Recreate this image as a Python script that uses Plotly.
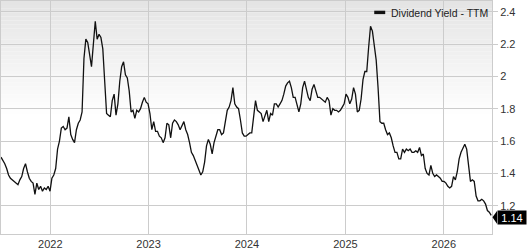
import pandas as pd
import plotly.graph_objects as go

series_name = "Dividend Yield - TTM"
start_date = "2021-07-02"
yield_values = [
    1.50, 1.48, 1.46, 1.43, 1.39, 1.37, 1.36, 1.35, 1.34, 1.33,
    1.36, 1.38, 1.43, 1.46, 1.41, 1.37, 1.35, 1.34, 1.27, 1.34,
    1.30, 1.32, 1.29, 1.31, 1.30, 1.32, 1.29, 1.37, 1.39, 1.43,
    1.55, 1.60, 1.68, 1.69, 1.67, 1.68, 1.75, 1.64, 1.61, 1.59,
    1.67, 1.71, 1.73, 1.78, 2.11, 2.23, 2.21, 2.13, 2.06, 2.20,
    2.34, 2.23, 2.26, 2.24, 2.17, 1.97, 1.77, 1.76, 1.75, 1.85,
    1.89, 1.76, 1.83, 1.97, 2.06, 2.09, 2.01, 1.99, 1.91, 1.78,
    1.79, 1.74, 1.79, 1.78, 1.80, 1.84, 1.87, 1.84, 1.83, 1.77,
    1.67, 1.72, 1.66, 1.66, 1.63, 1.62, 1.59, 1.62, 1.71, 1.70,
    1.62, 1.71, 1.73, 1.72, 1.70, 1.67, 1.70, 1.72, 1.67, 1.64,
    1.59, 1.53, 1.51, 1.48, 1.45, 1.43, 1.39, 1.41, 1.47, 1.57,
    1.61, 1.58, 1.52, 1.59, 1.64, 1.67, 1.67, 1.64, 1.65, 1.71,
    1.79, 1.81, 1.85, 1.93, 1.83, 1.81, 1.80, 1.73, 1.65, 1.63,
    1.63, 1.64, 1.65, 1.65, 1.74, 1.85, 1.79, 1.78, 1.77, 1.72,
    1.75, 1.79, 1.72, 1.77, 1.76, 1.83, 1.83, 1.81, 1.83, 1.85,
    1.89, 1.94, 1.96, 1.97, 1.93, 1.87, 1.87, 1.83, 1.78, 1.83,
    1.93, 1.97, 1.92, 1.87, 1.85, 1.92, 1.95, 1.91, 1.87, 1.87,
    1.86, 1.85, 1.84, 1.87, 1.85, 1.76, 1.80, 1.79, 1.79, 1.78,
    1.79, 1.81, 1.83, 1.89, 1.87, 1.83, 1.86, 1.93, 1.89, 1.78,
    1.79, 1.86, 1.98, 2.03, 2.03, 2.18, 2.31, 2.28, 2.20, 2.10,
    1.93, 1.72, 1.71, 1.71, 1.67, 1.64, 1.65, 1.62, 1.57, 1.53,
    1.53, 1.49, 1.49, 1.55, 1.53, 1.55, 1.54, 1.55, 1.53, 1.53,
    1.54, 1.53, 1.56, 1.51, 1.52, 1.43, 1.40, 1.39, 1.45, 1.40,
    1.38, 1.39, 1.38, 1.37, 1.35, 1.35, 1.34, 1.32, 1.31, 1.32,
    1.38, 1.36, 1.41, 1.49, 1.53, 1.56, 1.58, 1.55, 1.45, 1.35,
    1.36, 1.35, 1.26, 1.23, 1.23, 1.24, 1.23, 1.21, 1.17, 1.16,
    1.14,
]
dates = pd.date_range(start_date, periods=len(yield_values), freq="7D")
x_range = ["2021-07-02", "2026-06-29"]
y_range = [1.025, 2.466]
y_ticks = [1.2, 1.4, 1.6, 1.8, 2.0, 2.2, 2.4]

FONT = "Liberation Sans, Arial, sans-serif"
GRID = "#cccccc"

fig = go.Figure()
fig.add_trace(go.Scatter(
    x=dates, y=yield_values, mode="lines", name=series_name,
    line=dict(color="#111111", width=1.3), showlegend=False,
    hoverinfo="skip",
))

# background gradient (top gray -> white)
shapes = []
n = 30
for i in range(n):
    y0 = 0.5 + 0.5 * i / n
    y1 = 0.5 + 0.5 * (i + 1) / n
    t = (i + 0.5) / n
    c = int(round(255 - t * (255 - 228)))
    shapes.append(dict(type="rect", xref="paper", yref="paper",
                       x0=0, x1=1, y0=y0, y1=y1, layer="below",
                       line=dict(width=0), fillcolor=f"rgb({c},{c},{c})"))

# legend swatch
shapes.append(dict(type="rect", xref="paper", yref="paper",
                   x0=374 / 492, x1=385 / 492, y0=1 - 13.5 / 240, y1=1 - 10 / 240,
                   line=dict(width=0), fillcolor="#111111"))

last = yield_values[-1]
# arrow tip of last-value label
shapes.append(dict(type="path", xref="paper", yref="y",
                   path=f"M {0.5/492 + 1},{last - 0.012} L {1 + 5/492},{last + 0.028} L {1 + 5/492},{last - 0.052} Z",
                   line=dict(width=0), fillcolor="#000000"))

annotations = [
    dict(text=series_name, xref="paper", yref="paper", x=389 / 492, y=1 - 12 / 240,
         xanchor="left", yanchor="middle", showarrow=False,
         font=dict(family=FONT, size=10.5, color="#222222")),
    dict(text=f"{last:.2f}", xref="paper", yref="y", x=1 + 5 / 492, y=last,
         yshift=-2, xanchor="left", yanchor="middle", showarrow=False,
         bgcolor="#000000", borderpad=0, width=28, height=13, align="center",
         font=dict(family=FONT, size=11, color="#ffffff")),
]

fig.update_layout(
    width=527, height=250,
    margin=dict(l=0, r=35, t=0, b=10),
    paper_bgcolor="#ffffff", plot_bgcolor="#ffffff",
    font=dict(family=FONT, size=11, color="#333333"),
    shapes=shapes, annotations=annotations,
    showlegend=False,
    xaxis=dict(
        range=x_range, tick0="2022-01-01", dtick="M12", tickformat="%Y",
        showgrid=True, gridcolor=GRID, gridwidth=1,
        showline=True, linecolor=GRID, mirror=True,
        ticks="", zeroline=False,
        tickfont=dict(family=FONT, size=11, color="#333333"),
    ),
    yaxis=dict(
        range=y_range, side="right", tickvals=y_ticks,
        showgrid=True, gridcolor=GRID, gridwidth=1,
        showline=True, linecolor=GRID, mirror=True,
        ticks="outside", ticklen=5, tickcolor=GRID, zeroline=False,
        tickfont=dict(family=FONT, size=11, color="#333333"),
    ),
)

fig.write_html("out.html")
